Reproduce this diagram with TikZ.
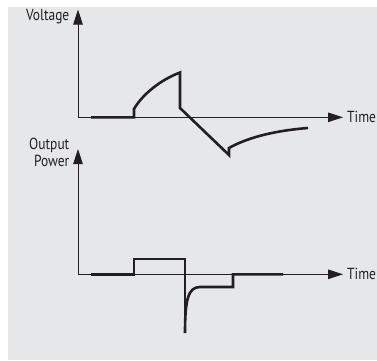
\documentclass[tikz,border=0pt]{standalone}
\usepackage{fontspec}
\setmainfont[FakeStretch=0.84]{PT Sans}
\usetikzlibrary{arrows.meta}
\definecolor{bggray}{HTML}{E6E7E8}
\definecolor{ink}{HTML}{231F20}
\tikzset{
  axis/.style={draw=ink, line width=0.9pt, -{Triangle[length=15pt,width=9.5pt]}},
  signal/.style={draw=ink, line width=2.6pt, line join=miter},
  lbl/.style={text=ink, font=\fontsize{16}{17}\selectfont, inner sep=0pt}
}
\begin{document}
\begin{tikzpicture}[x=1pt,y=-1pt]
\useasboundingbox (0,0) rectangle (377,360);
\fill[bggray] (8,7) rectangle (377,360);
% top panel
\coordinate (o1) at (78,117.3);
\coordinate (v1) at (78,9.5);
\coordinate (t1) at (343,117.3);
\draw[axis] (o1) -- (v1);
\draw[axis] (o1) -- (t1);
\node[lbl, anchor=base east] (volt) at (69.5,20) {Voltage};
\node[lbl, anchor=base west] (time1) at (347,122) {Time};
\draw[signal] (91,117.3) -- (134,117.3) -- (134,109)
  .. controls (142,95) and (160,80) .. (180,72.5) -- (180,108) -- (229,155) -- (229,148)
  .. controls (245,139) and (270,131) .. (308,128);
% bottom panel
\coordinate (o2) at (78,274.3);
\coordinate (v2) at (78,149);
\coordinate (t2) at (343,274.3);
\draw[axis] (o2) -- (v2);
\draw[axis] (o2) -- (t2);
\node[lbl, anchor=base east, align=right] (pow) at (69.5,166) {Output\\Power};
\node[lbl, anchor=base west] (time2) at (347,279) {Time};
\draw[signal] (91,274.3) -- (134,274.3) -- (134,259) -- (185,259) -- (185,333);
\draw[signal] (185,333) .. controls (185,300) and (188,287) .. (200,287) -- (233,287) -- (233,274.3) -- (283,274.3);
\end{tikzpicture}
\end{document}
